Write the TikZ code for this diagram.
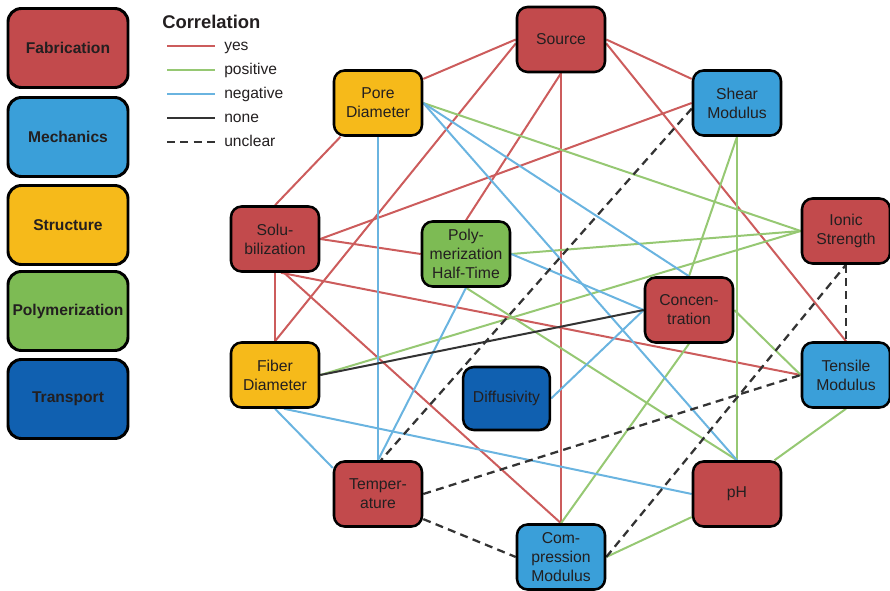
\documentclass[tikz,border=0pt]{standalone}
\usepackage{fontspec}
\setmainfont{Liberation Sans}
\usetikzlibrary{backgrounds}
\definecolor{fabc}{RGB}{194,74,76}
\definecolor{mechc}{RGB}{58,159,217}
\definecolor{strc}{RGB}{246,186,26}
\definecolor{polc}{RGB}{125,187,84}
\definecolor{trnc}{RGB}{16,96,176}
\definecolor{ered}{RGB}{204,92,92}
\definecolor{egreen}{RGB}{150,200,115}
\definecolor{eblue}{RGB}{106,180,224}
\definecolor{eblack}{RGB}{51,51,51}
\definecolor{txt}{RGB}{35,31,32}
\tikzset{
  gnode/.style={draw=black, line width=1.9pt, rounded corners=8pt, minimum width=66pt, minimum height=48.75pt, inner sep=0pt, align=center, text=txt, font=\fontsize{11.8}{14.3}\selectfont},
  lbox/.style={draw=black, line width=2.2pt, rounded corners=10pt, minimum width=90pt, minimum height=59.25pt, inner sep=0pt, align=center, text=txt, font=\fontsize{11.7}{14}\selectfont\bfseries},
  fab/.style={gnode, fill=fabc},
  mech/.style={gnode, fill=mechc},
  str/.style={gnode, fill=strc},
  pol/.style={gnode, fill=polc},
  trn/.style={gnode, fill=trnc},
  eyes/.style={draw=ered, line width=1.5pt},
  epos/.style={draw=egreen, line width=1.5pt},
  eneg/.style={draw=eblue, line width=1.5pt},
  enone/.style={draw=eblack, line width=1.5pt},
  eunc/.style={draw=eblack, line width=1.7pt, dash pattern=on 6pt off 4pt},
  legtxt/.style={anchor=base west, inner sep=0pt, text=txt, font=\fontsize{11.7}{14}\selectfont},
}
\begin{document}
\begin{tikzpicture}[x=0.75pt, y=-0.75pt]
\useasboundingbox (0,0) rectangle (890,591);
% left legend
\node[lbox, fill=fabc] (lfab) at (68,48) {Fabrication};
\node[lbox, fill=mechc] (lmech) at (68,137) {Mechanics};
\node[lbox, fill=strc] (lstr) at (68,225) {Structure};
\node[lbox, fill=polc] (lpol) at (68,311) {Polymerization};
\node[lbox, fill=trnc] (ltrn) at (68,399) {Transport};
% correlation legend
\node[anchor=west, inner sep=0pt, text=txt, font=\fontsize{13.8}{16}\selectfont\bfseries] (corr) at (162,22) {Correlation};
\coordinate (y1) at (167,46); \coordinate (y2) at (215,46);
\coordinate (p1) at (167,70); \coordinate (p2) at (215,70);
\coordinate (n1) at (167,94); \coordinate (n2) at (215,94);
\coordinate (o1) at (167,118); \coordinate (o2) at (215,118);
\coordinate (u1) at (167,142); \coordinate (u2) at (215,142);
\draw[eyes] (y1) -- (y2);
\draw[epos] (p1) -- (p2);
\draw[eneg] (n1) -- (n2);
\draw[enone] (o1) -- (o2);
\draw[eunc] (u1) -- (u2);
\node[legtxt] (lyes) at (224,51) {yes};
\node[legtxt] (lpos) at (224,75) {positive};
\node[legtxt] (lneg) at (224,99) {negative};
\node[legtxt] (lnone) at (224,123) {none};
\node[legtxt] (lunc) at (224,147) {unclear};
% graph nodes
\node[fab] (src) at (561,39.5) {Source};
\node[str] (pore) at (378,103) {Pore\\Diameter};
\node[mech] (shear) at (737,103) {Shear\\Modulus};
\node[fab] (solu) at (275,239) {Solu-\\bilization};
\node[pol] (poly) at (466,254) {Poly-\\merization\\Half-Time};
\node[fab] (ionic) at (846,231) {Ionic\\Strength};
\node[fab] (conc) at (689,310) {Concen-\\tration};
\node[str] (fiber) at (275,375) {Fiber\\Diameter};
\node[trn, minimum width=65pt, minimum height=47.25pt] (diff) at (506.5,398.5) {Diffusivity};
\node[mech] (tens) at (846,375) {Tensile\\Modulus};
\node[fab] (temp) at (378,494) {Temper-\\ature};
\node[fab] (ph) at (737,494) {pH};
\node[mech] (comp) at (561,557) {Com-\\pression\\Modulus};
% connectors
\begin{pgfonlayer}{background}
% yes
\draw[eyes] (pore.28) -- (src.west);
\draw[eyes] (src.east) -- (shear.152);
\draw[eyes] (src.185) -- (fiber.north);
\draw[eyes] (src.south) -- (poly.north);
\draw[eyes] (src.south) -- (comp.north);
\draw[eyes] (src.355) -- (tens.north);
\draw[eyes] (pore.222) -- (solu.north);
\draw[eyes] (solu.east) -- (shear.west);
\draw[eyes] (solu.east) -- (poly.west);
\draw[eyes] (solu.south) -- (fiber.north);
\draw[eyes] (solu.280) -- (tens.west);
\draw[eyes] (solu.285) -- (comp.north);
% positive
\draw[epos] (pore.east) -- (ionic.west);
\draw[epos] (poly.east) -- (ionic.west);
\draw[epos] (fiber.east) -- (ionic.west);
\draw[epos] (shear.south) -- (ph.north);
\draw[epos] (shear.south) -- (conc.north);
\draw[epos] (conc.south) -- (comp.north);
\draw[epos] (conc.east) -- (tens.west);
\draw[epos] (poly.south) -- (ph.north);
\draw[epos] (tens.south) -- (ph.42);
\draw[epos] (ph.207) -- (comp.east);
% negative
\draw[eneg] (pore.south) -- (temp.north);
\draw[eneg] (pore.east) -- (conc.north);
\draw[eneg] (pore.east) -- (ph.north);
\draw[eneg] (poly.east) -- (conc.west);
\draw[eneg] (poly.south) -- (temp.north);
\draw[eneg] (fiber.south) -- (temp.150);
\draw[eneg] (fiber.285) -- (ph.west);
\draw[eneg] (diff.east) -- (conc.west);
% none
\draw[enone] (fiber.east) -- (conc.west);
% unclear
\draw[eunc] (shear.187) -- (temp.85);
\draw[eunc] (temp.east) -- (tens.west);
\draw[eunc] (temp.331) -- (comp.west);
\draw[eunc] (comp.east) -- (ionic.south);
\draw[eunc] (ionic.south) -- (tens.north);
\end{pgfonlayer}
\end{tikzpicture}
\end{document}
